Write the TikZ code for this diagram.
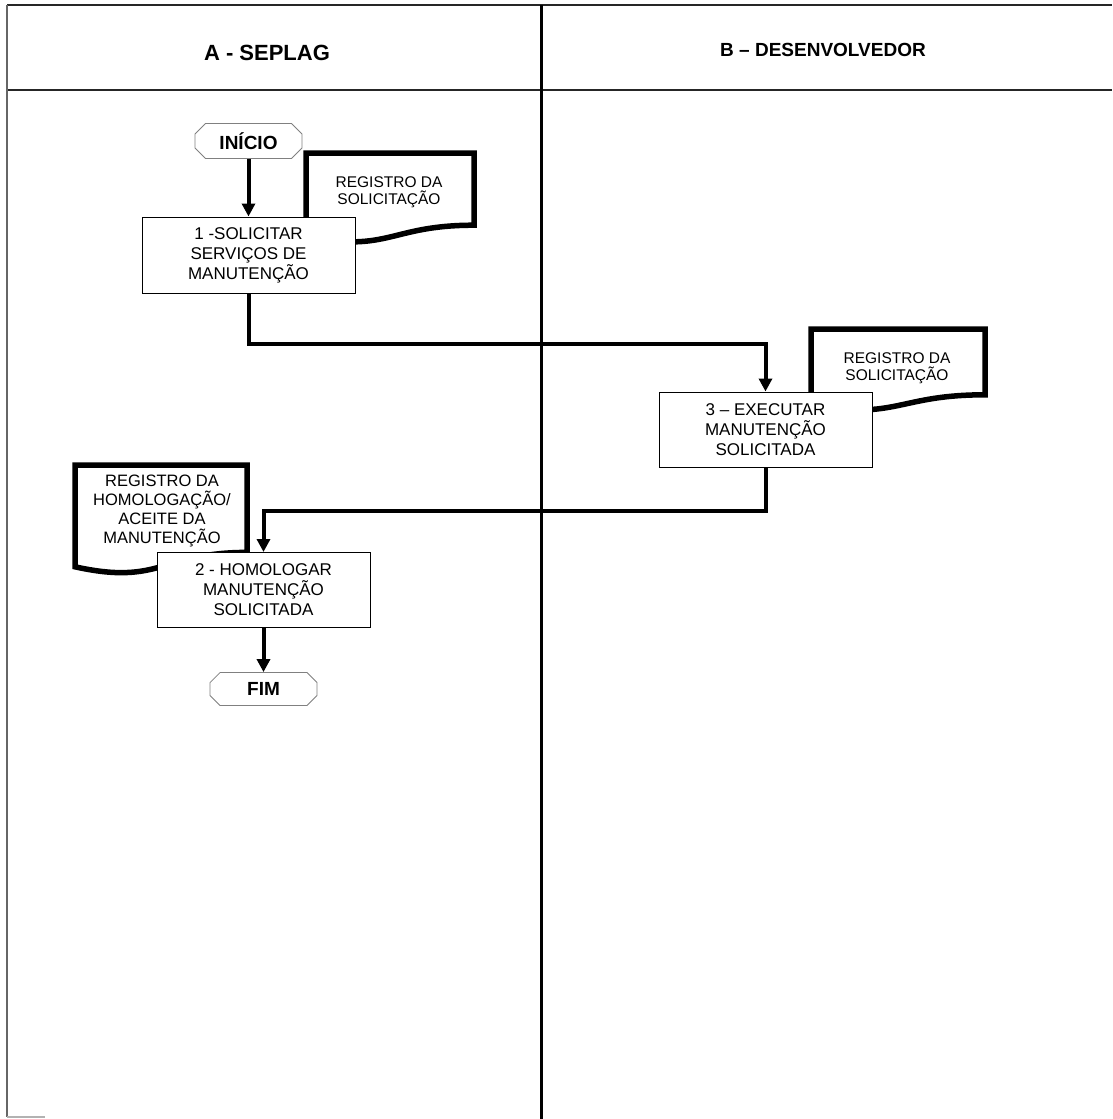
\documentclass[tikz,border=0pt]{standalone}
\usepackage{fontspec}
\setmainfont{Liberation Sans}
\usetikzlibrary{arrows.meta,shapes.misc}
\begin{document}
\begin{tikzpicture}[x=1pt,y=-1pt,
  procbox/.style={draw=black, line width=1pt, fill=white, minimum width=213pt,
    minimum height=75pt, align=center, inner sep=0pt,
    font=\fontsize{17}{20}\selectfont},
  term/.style={chamfered rectangle, chamfered rectangle xsep=7pt,
    draw=black!50, line width=0.8pt, fill=white, minimum width=107pt,
    minimum height=35pt, inner sep=0pt, font=\bfseries\fontsize{19}{21}\selectfont},
  doctext/.style={align=center, inner sep=0pt, font=\fontsize{15.5}{17.5}\selectfont},
  docline/.style={line width=5.5pt, line join=miter, fill=white},
  flow/.style={line width=4pt, -{Triangle[length=13pt,width=13pt]}},
  frameline/.style={line width=1.5pt, black!85},
  laneline/.style={line width=3pt, black},
  head/.style={font=\bfseries\fontsize{22}{26}\selectfont}
]
\useasboundingbox (0,0) rectangle (1112,1119);

% swimlane frame
\draw[frameline] (7,5) -- (1112,5);
\draw[frameline] (7,90) -- (1112,90);
\draw[line width=1.5pt, black!60] (7,5) -- (7,1117);
\draw[line width=1.2pt, black!30] (7,1117) -- (45,1117);
\draw[laneline] (541,5) -- (541,1119);

\node[head] (hA) at (267,53) {A - SEPLAG};
\node[head, font=\bfseries\fontsize{19}{23}\selectfont] (hB) at (823,50) {B – DESENVOLVEDOR};

% documents (drawn first, the process boxes overlap them)
\draw[docline] (306,153) -- (474,153) -- (474,225.2)
  .. controls (390,225.2) and (390,252.7) .. (306,237.1) -- cycle;
\node[doctext] (d1) at (389,192) {REGISTRO DA\\SOLICITAÇÃO};

\draw[docline] (811,329) -- (985,329) -- (985,394.8)
  .. controls (898,394.8) and (898,419.9) .. (811,405.6) -- cycle;
\node[doctext] (d2) at (897,368) {REGISTRO DA\\SOLICITAÇÃO};

\draw[docline] (75,465) -- (247,465) -- (247,552.4)
  .. controls (161,552.4) and (161,585.8) .. (75,566.8) -- cycle;
\node[doctext, font=\fontsize{16.5}{19}\selectfont] (d3) at (162,511)
  {REGISTRO DA\\HOMOLOGAÇÃO/\\ACEITE DA\\MANUTENÇÃO};

% terminals and process steps
\node[term] (ini) at (248.5,141) {INÍCIO};
\node[procbox, minimum height=76pt] (b1) at (248.5,255) {1 -SOLICITAR\\SERVIÇOS DE\\MANUTENÇÃO};
\node[procbox] (b3) at (765.5,429.5) {3 – EXECUTAR\\MANUTENÇÃO\\SOLICITADA};
\node[procbox] (b2) at (263.5,590) {2 - HOMOLOGAR\\MANUTENÇÃO\\SOLICITADA};
\node[term, minimum height=33pt] (fim) at (263.5,689) {FIM};

% connectors
\draw[flow] (ini.south) -- (b1.north);
\draw[flow] (b1.south) -- ++(0,50) -| (b3.north);
\draw[flow] (b3.south) -- ++(0,43) -| (b2.north);
\draw[flow] (b2.south) -- (fim.north);
\end{tikzpicture}
\end{document}
